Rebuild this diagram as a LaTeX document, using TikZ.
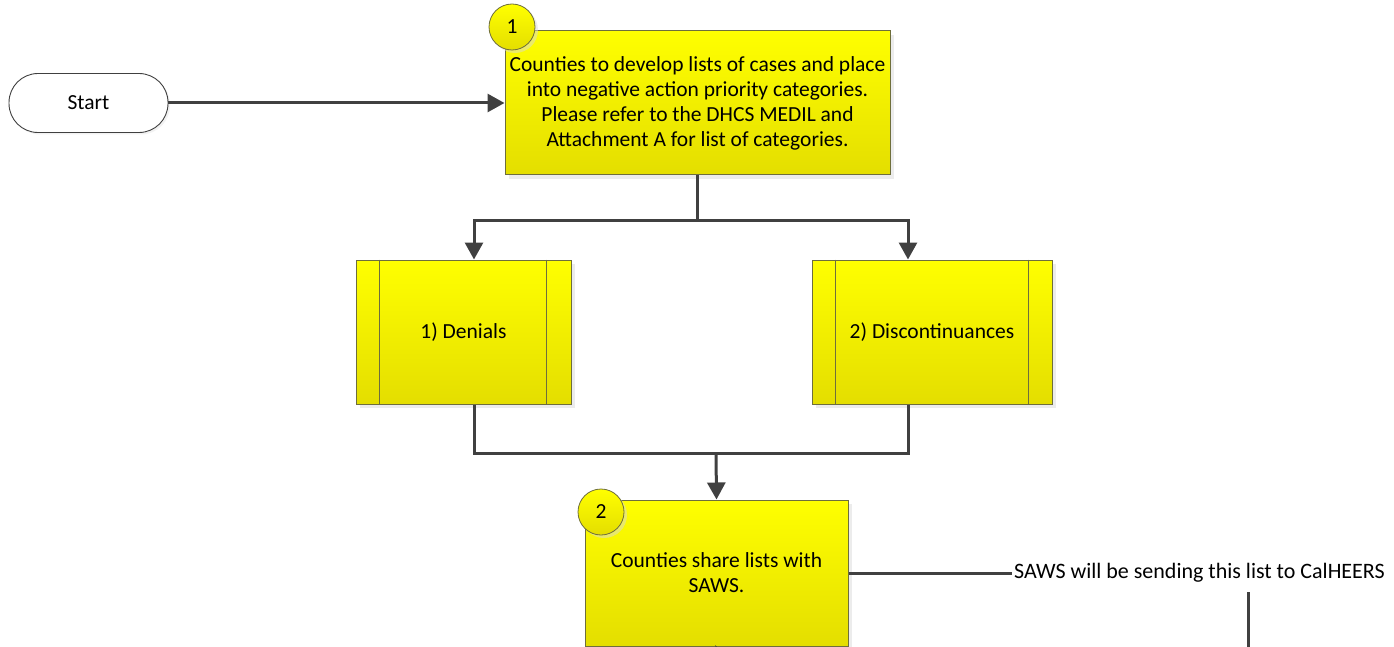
\documentclass[tikz,border=0pt]{standalone}
\usepackage{fontspec}
\setmainfont{Carlito}
\usetikzlibrary{arrows.meta,shadows,positioning}
\definecolor{edge}{RGB}{64,64,64}
\definecolor{boxline}{RGB}{110,110,60}
\definecolor{ytop}{RGB}{255,255,0}
\definecolor{ybot}{RGB}{228,222,0}
\tikzset{
  ybox/.style={draw=boxline, line width=1pt, top color=ytop, bottom color=ybot,
    drop shadow={shadow xshift=4pt, shadow yshift=-4pt, fill=black!15},
    align=center, font=\fontsize{21.5}{25}\selectfont, inner sep=0pt},
  badge/.style={circle, draw=boxline, line width=0.8pt, top color=ytop, bottom color=ybot,
    minimum size=46pt, inner sep=0pt, font=\fontsize{21.5}{24}\selectfont,
    drop shadow={shadow xshift=3pt, shadow yshift=-3pt, fill=black!15}},
  term/.style={draw=edge, line width=0.9pt, rounded corners=29pt, fill=white,
    minimum width=159pt, minimum height=59pt, font=\fontsize{21.5}{24}\selectfont,
    drop shadow={shadow xshift=2pt, shadow yshift=-2pt, fill=black!10}},
  conn/.style={draw=edge, line width=3pt},
  arr/.style={conn, -{Triangle[length=17pt,width=18pt]}},
  note/.style={font=\fontsize{22}{24}\selectfont, inner sep=2pt}
}
\begin{document}
\begin{tikzpicture}[x=1pt,y=-1pt]
\useasboundingbox (0,0) rectangle (1394,647);
% Start
\node[term] (start) at (88.5,103) {Start};
% Box 1
\node[ybox, minimum width=385pt, minimum height=144pt] (b1) at (697.5,103) {Counties to develop lists of cases and place\\into negative action priority categories.\\Please refer to the DHCS MEDIL and\\Attachment A for list of categories.};
\node[badge] (c1) at (512,27) {1};
% Denials
\node[ybox, minimum width=215pt, minimum height=144pt] (den) at (463.5,332) {1) Denials};
\draw[boxline, line width=1pt] ([xshift=24pt]den.north west) -- ([xshift=24pt]den.south west)
  ([xshift=-25pt]den.north east) -- ([xshift=-25pt]den.south east);
% Discontinuances
\node[ybox, minimum width=240pt, minimum height=144pt] (dis) at (932,332) {2) Discontinuances};
\draw[boxline, line width=1pt] ([xshift=24pt]dis.north west) -- ([xshift=24pt]dis.south west)
  ([xshift=-24pt]dis.north east) -- ([xshift=-24pt]dis.south east);
% Box 2
\node[ybox, minimum width=263pt, minimum height=146pt] (b2) at (716.5,573) {Counties share lists with\\SAWS.};
\node[badge] (c2) at (601,512) {2};
% note
\node[note, anchor=west] (saws) at (1012,573) {SAWS will be sending this list to CalHEERS};
% coordinates
\coordinate (j1) at (697,220);
\coordinate (j2) at (716,453);
\coordinate (v1) at (1248,592);
\coordinate (v2) at (1248,647);
\coordinate (b2out) at (716,647);
% connectors
\draw[arr] (start.east) -- (b1.west);
\draw[conn] (b1.south -| j1) -- (j1);
\draw[arr] (j1) -| ([xshift=10.5pt]den.north);
\draw[arr] (j1) -| ([xshift=-24pt]dis.north);
\draw[conn] ([xshift=10.5pt]den.south) |- (j2);
\draw[conn] ([xshift=-24pt]dis.south) |- (j2);
\draw[arr] (j2) -- (b2.north);
\draw[conn] (b2.east) -- (saws.west);
\draw[conn] (v1) -- (v2);
\draw[conn] (b2.south) -- (b2out);
\end{tikzpicture}
\end{document}
